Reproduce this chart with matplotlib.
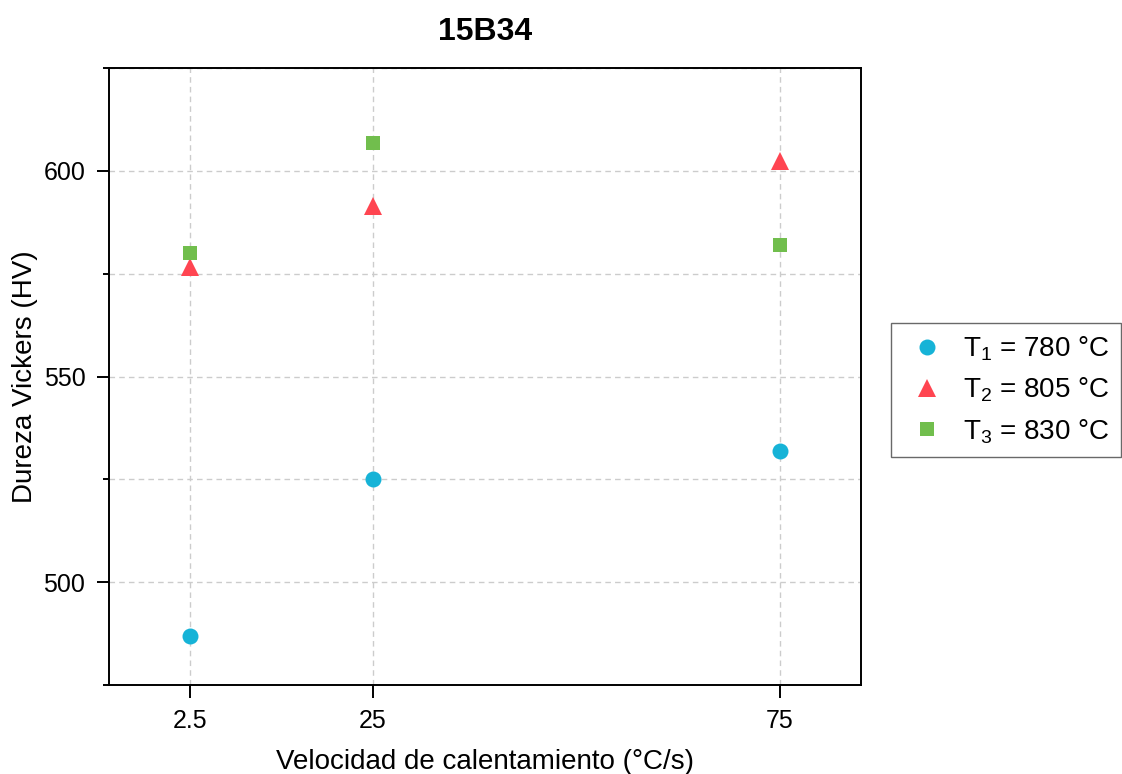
import matplotlib.pyplot as plt
from matplotlib.ticker import MultipleLocator

plt.rcParams["font.family"] = ["Liberation Sans", "DejaVu Sans"]
plt.rcParams["mathtext.fontset"] = "custom"
plt.rcParams["mathtext.rm"] = "Liberation Sans"

# ── Data ─────────────────────────────────────────────
velocidad = [2.5, 25, 75]
t1_hv = [487, 525, 532]
t2_hv = [576.5, 591.5, 602.5]
t3_hv = [580, 606.7, 582]
labels = [r"T$_1$ = 780 °C", r"T$_2$ = 805 °C", r"T$_3$ = 830 °C"]

# ── Figure ───────────────────────────────────────────
fig = plt.figure(figsize=(11.22, 7.74), dpi=100)
ax = fig.add_axes([109 / 1122, 1 - 685 / 774, 752 / 1122, 617 / 774])

ax.plot(velocidad, t1_hv, "o", color="#16B3D7", ms=11.5, mew=0, label=labels[0])
ax.plot(velocidad, t2_hv, "^", color="#FF4551", ms=13, mew=0, label=labels[1])
ax.plot(velocidad, t3_hv, "s", color="#71BE4D", ms=10, mew=0, label=labels[2])

ax.set_xlim(-7.45, 84.95)
ax.set_ylim(475, 625)
ax.set_xticks(velocidad)
ax.set_xticklabels(["2.5", "25", "75"])
ax.yaxis.set_major_locator(MultipleLocator(50))
ax.yaxis.set_minor_locator(MultipleLocator(25))

ax.grid(True, which="both", color="#CCCCCC", linestyle=(0, (4, 3)), linewidth=1)
ax.set_axisbelow(True)

for sp in ax.spines.values():
    sp.set_linewidth(1.4)
ax.tick_params(axis="both", which="major", direction="out", length=9, width=1.4,
               labelsize=18, pad=8)
ax.tick_params(axis="y", which="minor", direction="out", length=4.5, width=1.4)

ax.set_xlabel("Velocidad de calentamiento (°C/s)", fontsize=20, labelpad=12)
ax.set_ylabel("Dureza Vickers (HV)", fontsize=20, labelpad=4)
ax.set_title("15B34", fontsize=23, fontweight="bold", pad=20)

leg = fig.legend(loc="center left", bbox_to_anchor=(891 / 1122, 1 - 390 / 774),
                 fontsize=20, frameon=True, fancybox=False, edgecolor="#444444",
                 handletextpad=0.4, labelspacing=0.45, borderpad=0.4,
                 handlelength=1.8, borderaxespad=0)
leg.get_frame().set_linewidth(1.0)

fig.savefig("out.png", dpi=100)
